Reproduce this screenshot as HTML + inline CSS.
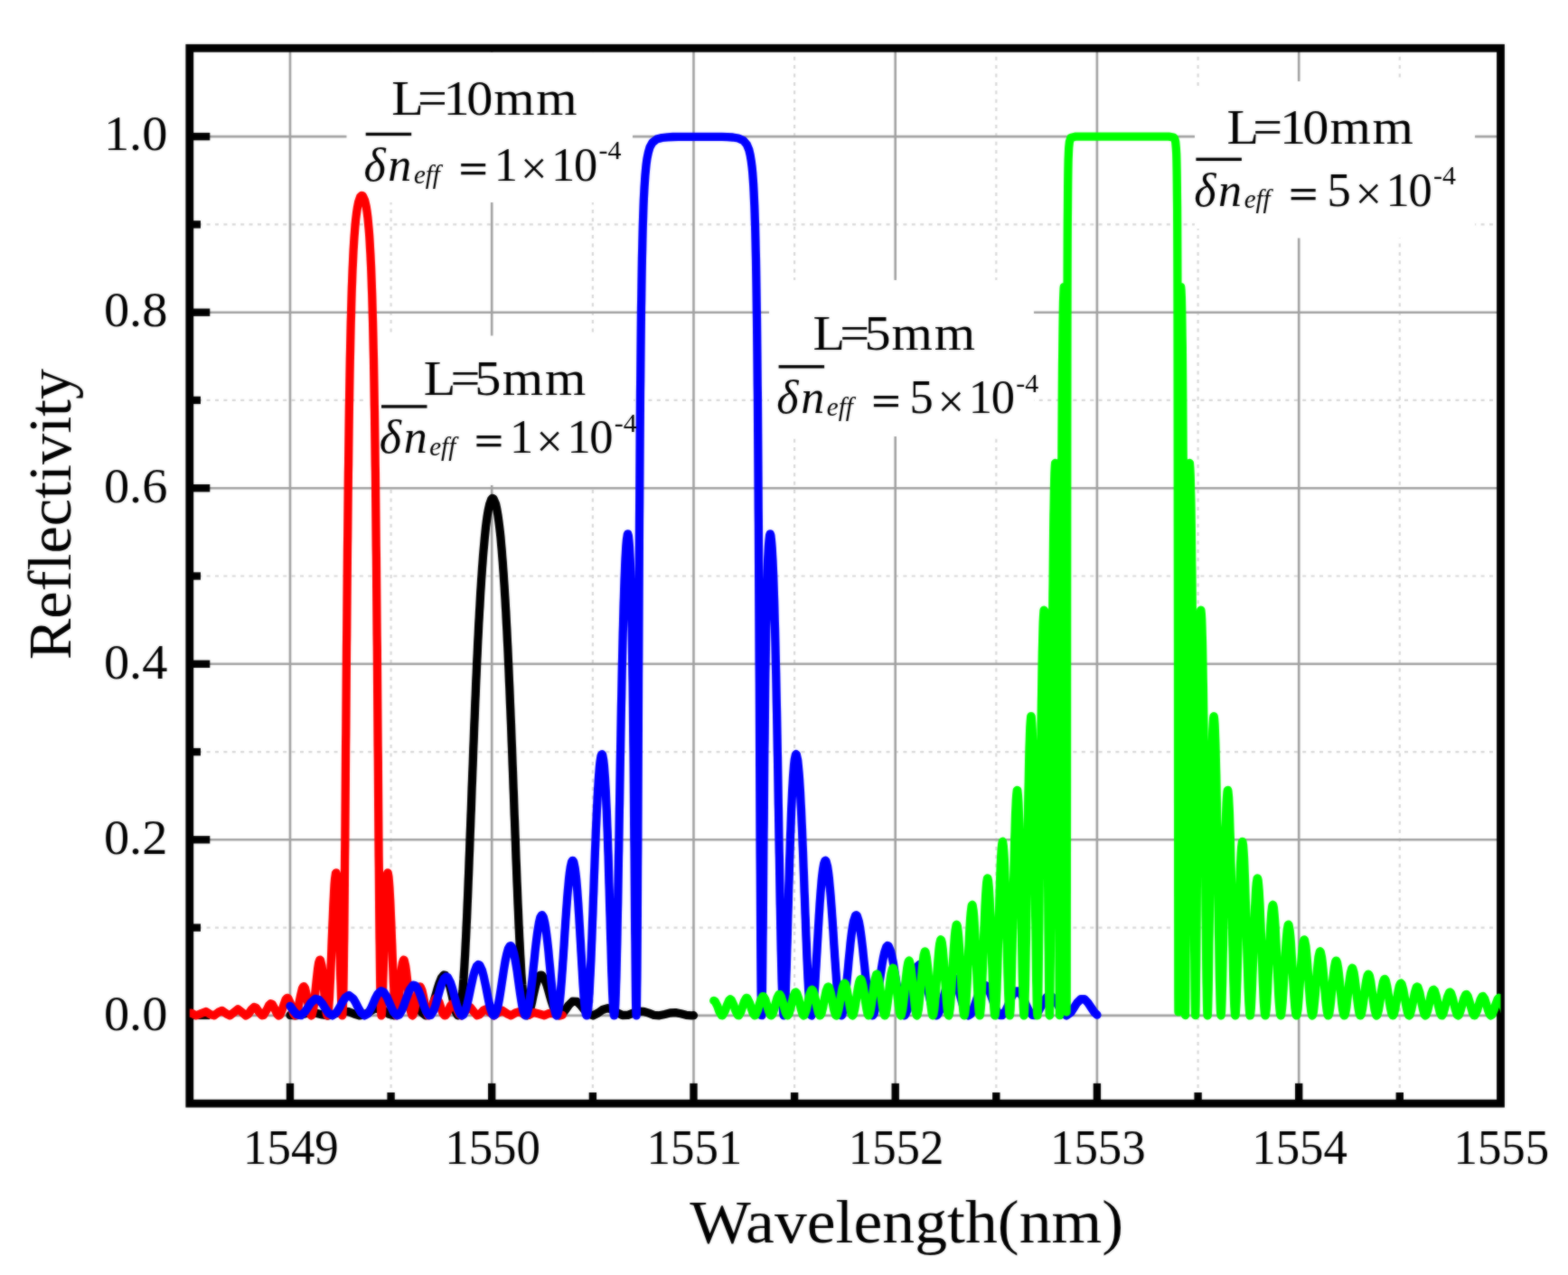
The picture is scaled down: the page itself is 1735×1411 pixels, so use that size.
<!DOCTYPE html>
<html lang="en"><head><meta charset="utf-8"><title>Reflectivity vs Wavelength</title>
<style>html,body{margin:0;padding:0;background:#fff}svg{display:block}</style></head>
<body>
<svg width="1735" height="1411" viewBox="0 0 1735 1411">
<defs><clipPath id="plot"><rect x="209.8" y="53.3" width="1450.7" height="1167.9"/></clipPath>
<rect width="1735" height="1411" fill="#ffffff"/>
<filter id="soft" x="0" y="0" width="100%" height="100%" filterUnits="userSpaceOnUse" color-interpolation-filters="sRGB"><feGaussianBlur in="SourceGraphic" stdDeviation="0.80" result="b"/><feComposite in="SourceGraphic" in2="b" operator="arithmetic" k1="0" k2="0.45" k3="0.55" k4="0"/></filter></defs>
<g filter="url(#soft)">
<rect width="1735" height="1411" fill="#ffffff"/>
<g id="grid-minor" stroke="#d7d7d7" stroke-width="2.2" stroke-dasharray="4 5.4" fill="none">
<line x1="432.6" y1="53.3" x2="432.6" y2="1221.2"/>
<line x1="655.9" y1="53.3" x2="655.9" y2="1221.2"/>
<line x1="879.1" y1="53.3" x2="879.1" y2="1221.2"/>
<line x1="1102.3" y1="53.3" x2="1102.3" y2="1221.2"/>
<line x1="1325.6" y1="53.3" x2="1325.6" y2="1221.2"/>
<line x1="1548.8" y1="53.3" x2="1548.8" y2="1221.2"/>
<line x1="209.8" y1="1026.6" x2="1660.5" y2="1026.6"/>
<line x1="209.8" y1="832.1" x2="1660.5" y2="832.1"/>
<line x1="209.8" y1="637.5" x2="1660.5" y2="637.5"/>
<line x1="209.8" y1="442.9" x2="1660.5" y2="442.9"/>
<line x1="209.8" y1="248.4" x2="1660.5" y2="248.4"/>
</g>
<g id="grid-major" stroke="#a0a0a0" stroke-width="2.6" fill="none">
<line x1="321.0" y1="53.3" x2="321.0" y2="1221.2"/>
<line x1="544.2" y1="53.3" x2="544.2" y2="1221.2"/>
<line x1="767.5" y1="53.3" x2="767.5" y2="1221.2"/>
<line x1="990.7" y1="53.3" x2="990.7" y2="1221.2"/>
<line x1="1213.9" y1="53.3" x2="1213.9" y2="1221.2"/>
<line x1="1437.2" y1="53.3" x2="1437.2" y2="1221.2"/>
<line x1="209.8" y1="1123.9" x2="1660.5" y2="1123.9"/>
<line x1="209.8" y1="929.3" x2="1660.5" y2="929.3"/>
<line x1="209.8" y1="734.8" x2="1660.5" y2="734.8"/>
<line x1="209.8" y1="540.2" x2="1660.5" y2="540.2"/>
<line x1="209.8" y1="345.7" x2="1660.5" y2="345.7"/>
<line x1="209.8" y1="151.1" x2="1660.5" y2="151.1"/>
</g>
<g id="label-backgrounds" fill="#ffffff">
<rect x="383.5" y="58.0" width="316.5" height="166.0"/>
<rect x="407.0" y="371.5" width="294.0" height="165.5"/>
<rect x="851.0" y="310.0" width="293.0" height="173.0"/>
<rect x="1322.0" y="98.0" width="310.0" height="155.0"/>
<rect x="1332.0" y="90.0" width="300.0" height="173.5"/>
</g>
<g id="axes" stroke="#000" fill="none">
<rect x="209.8" y="53.3" width="1450.7" height="1167.9" stroke-width="8.8"/>
<g stroke-width="8.4">
<line x1="321.0" y1="1221.2" x2="321.0" y2="1198.9"/>
<line x1="544.2" y1="1221.2" x2="544.2" y2="1198.9"/>
<line x1="767.5" y1="1221.2" x2="767.5" y2="1198.9"/>
<line x1="990.7" y1="1221.2" x2="990.7" y2="1198.9"/>
<line x1="1213.9" y1="1221.2" x2="1213.9" y2="1198.9"/>
<line x1="1437.2" y1="1221.2" x2="1437.2" y2="1198.9"/>
<line x1="432.6" y1="1221.2" x2="432.6" y2="1209.0"/>
<line x1="655.9" y1="1221.2" x2="655.9" y2="1209.0"/>
<line x1="879.1" y1="1221.2" x2="879.1" y2="1209.0"/>
<line x1="1102.3" y1="1221.2" x2="1102.3" y2="1209.0"/>
<line x1="1325.6" y1="1221.2" x2="1325.6" y2="1209.0"/>
<line x1="1548.8" y1="1221.2" x2="1548.8" y2="1209.0"/>
<line x1="209.8" y1="1123.9" x2="232.3" y2="1123.9"/>
<line x1="209.8" y1="929.3" x2="232.3" y2="929.3"/>
<line x1="209.8" y1="734.8" x2="232.3" y2="734.8"/>
<line x1="209.8" y1="540.2" x2="232.3" y2="540.2"/>
<line x1="209.8" y1="345.7" x2="232.3" y2="345.7"/>
<line x1="209.8" y1="151.1" x2="232.3" y2="151.1"/>
<line x1="209.8" y1="1026.6" x2="222.0" y2="1026.6"/>
<line x1="209.8" y1="832.1" x2="222.0" y2="832.1"/>
<line x1="209.8" y1="637.5" x2="222.0" y2="637.5"/>
<line x1="209.8" y1="442.9" x2="222.0" y2="442.9"/>
<line x1="209.8" y1="248.4" x2="222.0" y2="248.4"/>
</g></g>
<g id="curves" clip-path="url(#plot)" fill="none" stroke-width="9.3" stroke-linejoin="round" stroke-linecap="round">
<path stroke="#000000" d="M321.0 1123.4 L327.0 1123.9 L333.1 1122.9 L338.9 1121.4 L344.9 1120.6 L350.9 1121.4 L356.7 1123.0 L362.8 1123.9 L368.7 1122.8 L374.3 1120.5 L380.1 1119.0 L386.1 1119.7 L391.7 1122.0 L397.5 1123.8 L403.5 1122.8 L408.7 1119.7 L414.0 1116.6 L420.0 1115.9 L425.4 1118.7 L430.3 1122.2 L436.1 1123.8 L441.2 1120.7 L445.1 1116.0 L448.9 1111.2 L453.9 1107.8 L459.4 1110.4 L463.1 1115.3 L466.6 1120.4 L471.0 1123.9 L473.9 1122.4 L476.9 1117.1 L479.1 1111.4 L480.8 1105.6 L482.5 1099.7 L484.2 1093.9 L486.1 1087.9 L488.4 1082.2 L491.1 1079.0 L492.8 1079.4 L495.8 1084.8 L497.6 1090.8 L499.0 1096.8 L500.4 1102.8 L501.7 1109.1 L503.1 1114.9 L504.7 1120.8 L506.4 1123.8 L507.1 1123.8 L508.1 1122.5 L509.6 1116.2 L510.5 1110.0 L511.3 1103.0 L511.9 1097.0 L512.4 1090.1 L512.9 1084.1 L513.3 1077.5 L513.8 1070.5 L514.2 1062.9 L514.6 1056.9 L514.9 1050.6 L515.2 1044.1 L515.6 1037.3 L515.9 1030.3 L516.2 1023.1 L516.6 1015.7 L516.9 1008.0 L517.2 1000.2 L517.6 992.1 L517.9 983.9 L518.2 975.6 L518.6 967.1 L518.9 958.6 L519.2 949.9 L519.6 941.1 L519.9 932.2 L520.2 923.3 L520.6 914.3 L520.8 908.3 L521.0 902.3 L521.3 896.3 L521.5 890.3 L521.7 884.3 L521.9 878.3 L522.1 872.2 L522.5 863.3 L522.8 854.3 L523.2 845.4 L523.5 836.6 L523.8 827.8 L524.2 819.1 L524.5 810.5 L524.8 802.0 L525.2 793.6 L525.5 785.3 L525.8 777.1 L526.2 769.0 L526.5 761.1 L526.8 753.3 L527.2 745.6 L527.5 738.1 L527.8 730.7 L528.2 723.4 L528.5 716.4 L528.8 709.4 L529.2 702.6 L529.5 696.0 L529.8 689.5 L530.2 683.2 L530.5 677.1 L530.9 671.1 L531.3 663.3 L531.7 655.8 L532.2 648.7 L532.6 641.7 L533.1 635.1 L533.5 628.8 L534.0 622.7 L534.5 615.5 L535.1 608.7 L535.7 602.3 L536.2 596.3 L536.9 589.6 L537.5 583.5 L538.3 577.1 L539.2 570.7 L540.2 564.7 L541.6 558.4 L543.6 552.7 L544.9 551.4 L546.0 551.8 L548.5 557.5 L549.8 563.5 L550.9 570.0 L551.8 576.3 L552.6 582.6 L553.3 588.6 L554.0 595.1 L554.6 602.3 L555.2 608.7 L555.7 615.5 L556.3 622.7 L556.7 628.8 L557.2 635.1 L557.6 641.7 L558.1 648.6 L558.5 655.8 L559.0 663.3 L559.4 671.0 L559.8 677.0 L560.1 683.2 L560.4 689.5 L560.8 696.0 L561.1 702.6 L561.4 709.4 L561.8 716.3 L562.1 723.4 L562.4 730.6 L562.8 738.0 L563.1 745.6 L563.4 753.2 L563.8 761.0 L564.1 769.0 L564.4 777.0 L564.8 785.2 L565.1 793.5 L565.5 801.9 L565.8 810.4 L566.1 819.0 L566.5 827.7 L566.8 836.5 L567.1 845.3 L567.5 854.2 L567.8 863.2 L568.1 872.2 L568.4 878.2 L568.6 884.2 L568.8 890.2 L569.0 896.2 L569.2 902.2 L569.5 908.2 L569.7 914.2 L570.0 923.2 L570.4 932.1 L570.7 941.0 L571.0 949.8 L571.4 958.5 L571.7 967.0 L572.0 975.5 L572.4 983.8 L572.7 992.0 L573.0 1000.0 L573.4 1007.9 L573.7 1015.5 L574.0 1023.0 L574.4 1030.2 L574.7 1037.2 L575.1 1044.0 L575.4 1050.5 L575.7 1056.8 L576.1 1062.8 L576.5 1070.4 L576.9 1077.5 L577.4 1084.0 L577.8 1090.1 L578.4 1096.9 L579.0 1102.9 L579.6 1109.0 L580.5 1115.4 L581.9 1121.5 L583.1 1123.8 L583.8 1123.8 L585.8 1120.2 L587.4 1114.0 L588.8 1108.1 L590.1 1101.9 L591.5 1095.8 L592.9 1090.0 L594.7 1084.2 L597.7 1079.2 L599.4 1079.1 L602.8 1084.3 L605.0 1090.2 L606.8 1096.2 L608.4 1102.0 L610.2 1108.1 L612.1 1113.9 L614.5 1119.5 L618.2 1123.8 L621.9 1122.5 L625.7 1117.6 L629.2 1112.5 L633.5 1108.2 L638.3 1108.5 L642.7 1112.7 L646.4 1117.5 L650.5 1121.9 L656.3 1123.8 L661.8 1121.0 L666.7 1117.5 L672.5 1115.6 L678.3 1117.6 L683.3 1120.8 L688.8 1123.5 L694.8 1123.4 L700.5 1121.2 L706.2 1119.2 L712.2 1119.3 L717.9 1121.2 L723.6 1123.3 L729.6 1123.8 L735.6 1122.5 L741.4 1121.0 L747.4 1120.6 L753.3 1121.8 L759.2 1123.3 L765.2 1123.9 L767.5 1123.7"/>
<path stroke="#ff0000" d="M177.2 1122.6 L183.1 1123.7 L188.7 1121.2 L194.7 1122.1 L200.5 1123.8 L206.0 1121.1 L211.8 1121.1 L217.1 1123.8 L222.7 1121.5 L227.8 1119.5 L233.0 1122.7 L237.0 1123.8 L241.8 1120.1 L245.8 1118.4 L250.7 1122.0 L254.4 1123.9 L259.1 1120.1 L263.2 1116.8 L268.0 1120.4 L272.0 1123.9 L274.9 1122.2 L278.3 1117.2 L281.3 1114.4 L283.6 1115.5 L287.0 1120.6 L290.0 1123.8 L291.7 1123.4 L294.8 1118.2 L297.5 1112.7 L299.6 1110.7 L301.3 1111.5 L304.2 1117.0 L306.8 1122.5 L308.4 1123.9 L309.8 1123.1 L312.2 1117.6 L314.0 1111.9 L316.1 1106.1 L317.7 1104.3 L318.7 1104.5 L321.3 1110.1 L322.9 1115.9 L324.8 1121.8 L326.3 1123.8 L327.1 1123.7 L329.1 1119.0 L330.4 1113.0 L331.6 1106.6 L332.9 1100.3 L334.4 1094.1 L335.7 1091.8 L336.3 1091.7 L337.6 1093.8 L339.1 1100.2 L340.2 1106.4 L341.2 1112.4 L342.4 1118.4 L343.9 1123.5 L344.5 1123.9 L345.0 1123.5 L346.6 1117.4 L347.5 1111.0 L348.3 1104.2 L348.9 1097.6 L349.6 1090.8 L350.3 1084.1 L351.0 1077.8 L351.7 1071.4 L352.7 1065.3 L353.7 1062.4 L354.1 1062.2 L354.5 1062.6 L356.0 1068.9 L356.8 1075.2 L357.4 1082.0 L358.0 1088.3 L358.5 1094.9 L359.1 1101.6 L359.7 1108.1 L360.3 1114.9 L361.1 1120.9 L361.9 1123.8 L362.1 1123.9 L362.4 1123.5 L363.5 1117.5 L364.0 1110.9 L364.5 1104.2 L364.9 1096.1 L365.2 1089.3 L365.6 1082.0 L365.9 1074.2 L366.2 1066.1 L366.6 1057.6 L366.9 1049.0 L367.2 1040.4 L367.6 1031.8 L367.9 1023.3 L368.3 1015.1 L368.6 1007.3 L368.9 999.9 L369.3 993.0 L369.6 986.8 L370.0 979.5 L370.6 972.5 L371.5 966.4 L371.7 966.0 L371.9 966.0 L372.5 968.3 L373.2 975.1 L373.6 982.1 L373.9 988.8 L374.3 996.6 L374.6 1005.4 L374.8 1011.8 L375.1 1018.7 L375.3 1025.9 L375.5 1033.5 L375.7 1041.4 L376.0 1049.4 L376.2 1057.7 L376.4 1065.9 L376.6 1074.2 L376.8 1082.3 L377.1 1090.1 L377.3 1097.5 L377.5 1104.3 L377.7 1110.4 L378.1 1117.7 L378.5 1123.3 L378.6 1123.8 L378.7 1123.9 L379.0 1122.7 L379.4 1114.6 L379.6 1107.4 L379.9 1098.0 L380.1 1086.3 L380.2 1079.7 L380.3 1072.4 L380.4 1064.7 L380.5 1056.4 L380.6 1047.5 L380.8 1038.2 L380.9 1028.3 L381.0 1018.0 L381.1 1007.3 L381.2 996.1 L381.3 984.5 L381.4 972.6 L381.5 960.3 L381.6 947.7 L381.8 934.9 L381.9 921.7 L382.0 908.4 L382.1 894.9 L382.2 881.3 L382.3 867.5 L382.4 853.6 L382.5 839.7 L382.6 825.7 L382.8 811.8 L382.9 797.8 L383.0 783.9 L383.1 770.1 L383.2 756.4 L383.3 742.8 L383.4 729.3 L383.5 716.0 L383.7 702.9 L383.8 689.9 L383.9 677.1 L384.0 664.6 L384.1 652.2 L384.2 640.1 L384.3 628.2 L384.4 616.5 L384.5 605.1 L384.7 593.9 L384.8 583.0 L384.9 572.3 L385.0 561.9 L385.1 551.7 L385.2 541.8 L385.3 532.1 L385.4 522.7 L385.6 513.6 L385.7 504.6 L385.8 495.9 L385.9 487.5 L386.0 479.3 L386.1 471.3 L386.2 463.5 L386.3 456.0 L386.4 448.6 L386.6 441.5 L386.7 434.6 L386.8 427.9 L386.9 421.4 L387.0 415.1 L387.1 409.0 L387.3 397.3 L387.6 386.2 L387.8 375.9 L388.0 366.1 L388.2 356.9 L388.5 348.3 L388.7 340.2 L388.9 332.5 L389.1 325.3 L389.3 318.6 L389.6 312.2 L389.8 306.2 L390.1 297.8 L390.5 290.2 L390.8 283.2 L391.1 276.8 L391.6 269.1 L392.0 262.3 L392.5 256.2 L393.0 249.5 L393.7 242.6 L394.5 236.0 L395.4 229.9 L396.6 223.8 L398.6 217.9 L400.2 216.4 L401.4 216.9 L403.7 222.0 L405.1 228.0 L406.1 234.3 L406.9 240.6 L407.5 247.0 L408.1 253.4 L408.7 260.7 L409.1 267.3 L409.5 274.8 L409.9 281.0 L410.2 287.8 L410.6 295.2 L410.9 303.3 L411.2 312.2 L411.4 318.5 L411.7 325.3 L411.9 332.5 L412.1 340.1 L412.3 348.2 L412.6 356.9 L412.8 366.1 L413.0 375.8 L413.2 386.2 L413.5 397.2 L413.7 408.9 L413.8 415.0 L413.9 421.4 L414.0 427.9 L414.1 434.6 L414.2 441.5 L414.3 448.6 L414.5 455.9 L414.6 463.4 L414.7 471.2 L414.8 479.2 L414.9 487.4 L415.0 495.8 L415.1 504.5 L415.2 513.5 L415.4 522.6 L415.5 532.0 L415.6 541.7 L415.7 551.6 L415.8 561.8 L415.9 572.2 L416.0 582.9 L416.1 593.8 L416.2 605.0 L416.4 616.4 L416.5 628.0 L416.6 639.9 L416.7 652.0 L416.8 664.4 L416.9 677.0 L417.0 689.7 L417.1 702.7 L417.3 715.8 L417.4 729.1 L417.5 742.6 L417.6 756.2 L417.7 769.9 L417.8 783.7 L417.9 797.6 L418.0 811.5 L418.1 825.5 L418.3 839.5 L418.4 853.4 L418.5 867.2 L418.6 881.0 L418.7 894.7 L418.8 908.2 L418.9 921.5 L419.0 934.6 L419.1 947.5 L419.3 960.1 L419.4 972.4 L419.5 984.3 L419.6 995.9 L419.7 1007.1 L419.8 1017.8 L419.9 1028.1 L420.0 1038.0 L420.2 1047.3 L420.3 1056.2 L420.4 1064.5 L420.5 1072.3 L420.6 1079.5 L420.7 1086.2 L420.8 1092.3 L421.0 1102.9 L421.3 1111.2 L421.5 1117.3 L421.9 1123.5 L422.0 1123.9 L422.2 1123.8 L422.6 1119.7 L422.9 1113.1 L423.3 1104.4 L423.5 1097.6 L423.7 1090.2 L423.9 1082.4 L424.2 1074.3 L424.4 1066.1 L424.6 1057.8 L424.8 1049.6 L425.1 1041.5 L425.3 1033.6 L425.5 1026.1 L425.7 1018.8 L426.0 1012.0 L426.2 1005.5 L426.4 999.5 L426.7 991.4 L427.1 984.3 L427.5 976.7 L428.1 970.1 L428.7 966.2 L429.0 965.9 L429.2 966.1 L430.0 970.3 L430.5 976.4 L431.0 982.9 L431.4 990.8 L431.8 997.4 L432.1 1004.6 L432.4 1012.3 L432.8 1020.4 L433.1 1028.8 L433.4 1037.3 L433.8 1046.0 L434.1 1054.6 L434.4 1063.1 L434.8 1071.4 L435.1 1079.3 L435.4 1086.8 L435.8 1093.8 L436.1 1100.2 L436.6 1107.6 L437.0 1113.7 L437.7 1120.2 L438.5 1123.7 L438.7 1123.9 L439.0 1123.6 L440.2 1117.0 L440.9 1110.6 L441.5 1104.4 L442.0 1097.8 L442.6 1091.1 L443.1 1084.6 L443.7 1078.6 L444.4 1072.4 L445.3 1066.2 L446.4 1062.5 L446.7 1062.2 L447.2 1062.5 L448.7 1069.0 L449.6 1075.7 L450.3 1081.8 L451.0 1088.4 L451.6 1095.2 L452.3 1101.9 L453.0 1108.1 L453.7 1114.3 L454.8 1120.3 L455.9 1123.6 L456.3 1123.9 L456.9 1123.5 L458.7 1117.4 L459.8 1111.2 L460.8 1105.2 L461.9 1099.1 L463.5 1093.3 L464.5 1091.8 L465.1 1091.8 L466.9 1095.9 L468.3 1101.8 L469.5 1108.2 L470.7 1114.6 L472.2 1120.5 L473.7 1123.7 L474.5 1123.9 L476.5 1120.4 L478.3 1114.5 L480.1 1108.5 L482.2 1104.5 L483.2 1104.3 L486.1 1109.6 L488.0 1115.7 L490.1 1121.6 L491.9 1123.8 L493.1 1123.6 L496.2 1118.2 L498.7 1112.7 L500.7 1110.7 L502.4 1111.4 L505.4 1116.8 L508.2 1122.3 L510.3 1123.9 L514.6 1119.4 L518.3 1114.6 L520.3 1114.7 L524.1 1119.5 L528.0 1123.8 L531.0 1122.6 L534.9 1118.0 L537.8 1116.8 L542.4 1120.7 L546.5 1123.9 L551.6 1120.6 L555.9 1118.3 L560.9 1121.7 L565.4 1123.9 L570.6 1120.7 L575.1 1119.6 L580.2 1122.9 L585.2 1123.4 L590.6 1120.5 L596.5 1122.0 L602.3 1123.8 L607.9 1121.3 L613.9 1121.9 L619.6 1123.9 L622.3 1123.3"/>
<path stroke="#0000ff" d="M321.0 1113.3 L324.6 1118.3 L328.7 1122.8 L333.0 1123.7 L337.5 1119.6 L340.9 1114.5 L344.2 1109.4 L348.7 1105.4 L352.8 1106.2 L356.7 1110.8 L360.0 1116.1 L363.4 1121.2 L367.8 1123.9 L372.7 1120.2 L375.8 1114.9 L378.7 1109.3 L382.0 1104.2 L386.1 1101.5 L390.9 1105.1 L393.9 1110.3 L396.7 1115.8 L399.8 1121.1 L403.6 1123.9 L407.2 1121.7 L410.3 1116.3 L412.8 1110.8 L415.2 1105.2 L418.1 1099.7 L421.8 1096.6 L424.9 1098.2 L428.2 1103.5 L430.6 1109.1 L433.0 1114.7 L435.6 1120.2 L439.2 1123.8 L441.7 1123.0 L444.9 1117.7 L447.1 1112.0 L449.1 1106.3 L451.2 1100.6 L453.5 1095.0 L457.2 1090.2 L459.4 1090.5 L462.9 1095.6 L465.1 1101.3 L467.1 1107.3 L469.1 1113.3 L471.4 1119.0 L474.8 1123.7 L476.6 1123.5 L479.8 1118.4 L481.9 1112.5 L483.5 1106.7 L485.2 1100.6 L486.9 1094.5 L488.8 1088.5 L491.2 1083.0 L493.6 1080.9 L495.5 1081.6 L498.4 1087.1 L500.3 1092.9 L501.9 1099.1 L503.5 1105.1 L505.1 1111.0 L506.9 1117.0 L509.3 1122.5 L511.1 1123.9 L512.7 1123.0 L515.2 1117.4 L516.9 1111.4 L518.4 1105.1 L519.7 1098.7 L520.9 1092.8 L522.3 1086.4 L523.6 1080.6 L525.2 1074.8 L527.4 1069.1 L529.3 1067.4 L530.7 1068.0 L533.4 1073.7 L535.1 1079.9 L536.4 1085.9 L537.7 1092.0 L538.9 1098.3 L540.1 1104.6 L541.3 1110.5 L542.8 1116.5 L544.8 1122.2 L546.4 1123.9 L547.5 1123.5 L549.9 1117.7 L551.4 1111.4 L552.5 1105.4 L553.5 1099.3 L554.5 1092.9 L555.4 1086.9 L556.3 1081.0 L557.3 1074.4 L558.3 1068.2 L559.4 1061.9 L560.7 1056.0 L562.3 1050.1 L564.2 1046.8 L565.2 1046.7 L567.0 1049.4 L568.8 1055.6 L570.0 1061.7 L571.1 1068.3 L572.2 1074.9 L573.0 1081.1 L573.9 1087.6 L574.8 1094.0 L575.7 1100.3 L576.7 1106.9 L577.8 1113.3 L579.2 1119.3 L581.0 1123.6 L581.7 1123.9 L582.8 1122.8 L584.5 1116.7 L585.7 1110.4 L586.5 1104.1 L587.3 1097.9 L588.1 1091.1 L588.8 1085.0 L589.5 1078.6 L590.1 1072.2 L590.8 1065.7 L591.5 1059.2 L592.1 1052.9 L592.8 1046.8 L593.6 1040.1 L594.4 1033.9 L595.3 1027.7 L596.4 1021.2 L597.8 1015.4 L599.3 1012.8 L599.9 1012.7 L601.3 1014.9 L602.8 1021.1 L603.8 1027.1 L604.7 1033.6 L605.5 1040.1 L606.2 1046.2 L606.9 1052.8 L607.5 1059.6 L608.2 1066.7 L608.8 1072.7 L609.3 1078.7 L610.0 1085.8 L610.7 1092.8 L611.3 1099.3 L612.0 1105.3 L612.8 1111.6 L613.8 1118.0 L615.3 1123.4 L615.9 1123.9 L616.5 1123.5 L618.0 1117.8 L618.9 1111.6 L619.6 1105.6 L620.3 1098.6 L620.8 1092.1 L621.4 1085.0 L621.8 1079.0 L622.3 1072.8 L622.7 1066.3 L623.2 1059.7 L623.6 1052.9 L624.1 1046.1 L624.5 1039.3 L624.9 1032.4 L625.4 1025.7 L625.8 1019.0 L626.3 1012.5 L626.7 1006.2 L627.2 1000.1 L627.7 992.8 L628.3 986.0 L628.9 979.7 L629.5 972.9 L630.3 966.0 L631.2 959.8 L632.5 953.9 L633.4 952.4 L633.9 952.4 L634.8 953.9 L636.1 960.1 L637.0 966.7 L637.7 973.0 L638.2 979.0 L638.8 985.8 L639.3 993.2 L639.8 999.6 L640.2 1006.3 L640.7 1013.4 L641.1 1020.7 L641.6 1028.3 L642.0 1036.0 L642.5 1043.9 L642.9 1051.9 L643.4 1059.8 L643.8 1067.6 L644.3 1075.3 L644.7 1082.7 L645.1 1089.8 L645.6 1096.5 L646.0 1102.6 L646.6 1109.4 L647.3 1116.0 L648.3 1122.4 L648.8 1123.8 L649.1 1123.9 L649.4 1123.5 L650.4 1118.8 L651.1 1112.5 L651.6 1105.5 L652.1 1098.7 L652.5 1091.0 L652.8 1084.6 L653.2 1077.8 L653.5 1070.6 L653.9 1063.0 L654.2 1055.0 L654.5 1046.8 L654.9 1038.3 L655.2 1029.6 L655.5 1020.7 L655.9 1011.7 L656.1 1005.6 L656.3 999.6 L656.5 993.5 L656.8 987.4 L657.0 981.4 L657.2 975.3 L657.4 969.3 L657.8 960.4 L658.1 951.6 L658.4 943.0 L658.8 934.5 L659.1 926.3 L659.4 918.3 L659.8 910.6 L660.1 903.2 L660.4 896.1 L660.8 889.3 L661.1 882.8 L661.4 876.7 L661.9 869.2 L662.3 862.3 L662.8 856.2 L663.3 849.5 L664.0 843.1 L665.0 836.8 L665.8 834.8 L666.1 834.7 L666.7 835.6 L667.8 841.7 L668.5 848.1 L669.0 855.0 L669.5 861.6 L669.9 869.1 L670.3 875.4 L670.6 882.2 L670.9 889.5 L671.3 897.3 L671.6 905.7 L671.9 914.5 L672.2 920.7 L672.4 927.1 L672.6 933.7 L672.8 940.5 L673.1 947.4 L673.3 954.6 L673.5 961.8 L673.7 969.3 L673.9 976.8 L674.2 984.5 L674.4 992.3 L674.6 1000.1 L674.8 1008.0 L675.1 1015.9 L675.3 1023.8 L675.5 1031.7 L675.7 1039.5 L676.0 1047.2 L676.2 1054.8 L676.4 1062.1 L676.6 1069.3 L676.8 1076.3 L677.1 1082.9 L677.3 1089.2 L677.6 1097.9 L678.0 1105.6 L678.3 1112.1 L678.7 1118.7 L679.3 1123.3 L679.5 1123.9 L679.6 1123.9 L680.0 1122.7 L680.5 1116.7 L680.9 1110.7 L681.2 1102.8 L681.4 1096.6 L681.6 1089.6 L681.9 1082.0 L682.1 1073.6 L682.3 1064.5 L682.5 1054.8 L682.8 1044.6 L683.0 1033.8 L683.2 1022.5 L683.4 1010.9 L683.7 998.8 L683.8 992.6 L683.9 986.4 L684.0 980.1 L684.1 973.8 L684.2 967.4 L684.3 960.9 L684.4 954.4 L684.5 947.9 L684.7 941.3 L684.8 934.7 L684.9 928.1 L685.0 921.5 L685.1 914.9 L685.2 908.3 L685.3 901.6 L685.4 895.0 L685.6 888.4 L685.7 881.9 L685.8 875.3 L685.9 868.8 L686.0 862.3 L686.1 855.8 L686.2 849.4 L686.3 843.0 L686.4 836.7 L686.6 830.4 L686.7 824.2 L686.8 818.0 L686.9 811.9 L687.0 805.8 L687.2 793.9 L687.4 782.3 L687.7 771.0 L687.9 759.9 L688.1 749.2 L688.3 738.8 L688.6 728.7 L688.8 719.0 L689.0 709.6 L689.2 700.6 L689.5 691.9 L689.7 683.6 L689.9 675.6 L690.1 668.0 L690.4 660.7 L690.6 653.8 L690.8 647.3 L691.0 641.1 L691.4 632.5 L691.7 624.7 L692.0 617.7 L692.4 611.5 L692.8 604.5 L693.4 597.7 L694.3 591.7 L694.6 591.0 L694.8 591.0 L695.4 593.0 L696.0 598.9 L696.5 605.3 L696.8 611.5 L697.2 619.0 L697.5 627.9 L697.7 634.6 L697.9 642.0 L698.2 650.1 L698.4 659.1 L698.6 668.8 L698.8 679.4 L699.1 691.0 L699.2 697.1 L699.3 703.4 L699.4 710.1 L699.5 717.0 L699.6 724.1 L699.7 731.5 L699.8 739.2 L699.9 747.2 L700.1 755.5 L700.2 764.0 L700.3 772.9 L700.4 782.1 L700.5 791.6 L700.6 801.3 L700.7 811.4 L700.8 821.8 L701.0 832.5 L701.1 843.5 L701.2 854.8 L701.3 866.4 L701.4 878.2 L701.5 890.3 L701.6 902.6 L701.7 915.2 L701.8 927.9 L702.0 940.8 L702.1 953.8 L702.2 966.9 L702.3 980.0 L702.4 993.0 L702.5 1006.0 L702.6 1018.7 L702.7 1031.3 L702.9 1043.4 L703.0 1055.2 L703.1 1066.4 L703.2 1076.9 L703.3 1086.7 L703.4 1095.6 L703.5 1103.6 L703.6 1110.3 L703.9 1120.0 L704.1 1123.9 L704.2 1123.3 L704.4 1117.0 L704.6 1103.3 L704.7 1093.7 L704.9 1082.3 L705.0 1069.2 L705.1 1054.4 L705.2 1038.0 L705.3 1020.1 L705.4 1000.9 L705.5 980.6 L705.6 959.2 L705.8 936.9 L705.9 913.9 L706.0 890.4 L706.1 866.6 L706.2 842.4 L706.3 818.2 L706.4 794.1 L706.5 770.1 L706.6 746.3 L706.8 722.9 L706.9 700.0 L707.0 677.6 L707.1 655.7 L707.2 634.5 L707.3 613.9 L707.4 594.0 L707.5 574.8 L707.7 556.3 L707.8 538.5 L707.9 521.4 L708.0 505.0 L708.1 489.4 L708.2 474.4 L708.3 460.0 L708.4 446.3 L708.5 433.3 L708.7 420.8 L708.8 408.9 L708.9 397.6 L709.0 386.8 L709.1 376.6 L709.2 366.8 L709.3 357.5 L709.4 348.6 L709.5 340.2 L709.7 332.2 L709.8 324.6 L709.9 317.3 L710.0 310.4 L710.1 303.8 L710.2 297.5 L710.4 285.9 L710.7 275.3 L710.9 265.7 L711.1 256.9 L711.3 249.0 L711.6 241.7 L711.8 235.1 L712.0 229.1 L712.3 221.0 L712.7 213.9 L713.0 207.7 L713.5 200.5 L713.9 194.4 L714.5 188.0 L715.1 181.8 L716.0 175.4 L717.3 169.1 L719.0 163.1 L721.9 157.8 L726.7 154.1 L732.5 152.5 L738.6 151.8 L744.6 151.5 L750.6 151.4 L756.7 151.3 L762.7 151.3 L768.7 151.3 L774.7 151.3 L780.8 151.3 L786.8 151.3 L792.8 151.3 L798.8 151.4 L804.9 151.6 L810.9 152.0 L816.9 153.0 L822.5 155.5 L826.4 160.1 L828.8 165.9 L830.2 171.9 L831.2 177.9 L832.0 184.1 L832.7 190.9 L833.2 197.9 L833.7 204.7 L834.1 212.6 L834.4 219.5 L834.8 227.4 L835.1 236.4 L835.3 243.1 L835.6 250.5 L835.8 258.6 L836.0 267.5 L836.2 277.3 L836.5 288.1 L836.7 299.9 L836.8 306.3 L836.9 313.0 L837.0 320.1 L837.1 327.5 L837.2 335.3 L837.3 343.4 L837.5 352.0 L837.6 361.0 L837.7 370.5 L837.8 380.5 L837.9 390.9 L838.0 401.9 L838.1 413.4 L838.2 425.5 L838.4 438.2 L838.5 451.5 L838.6 465.4 L838.7 480.0 L838.8 495.2 L838.9 511.2 L839.0 527.8 L839.1 545.1 L839.2 563.2 L839.4 581.9 L839.5 601.4 L839.6 621.5 L839.7 642.3 L839.8 663.8 L839.9 685.8 L840.0 708.4 L840.1 731.5 L840.3 755.0 L840.4 778.9 L840.5 802.9 L840.6 827.1 L840.7 851.3 L840.8 875.3 L840.9 899.1 L841.0 922.4 L841.1 945.1 L841.3 967.0 L841.4 988.0 L841.5 1008.0 L841.6 1026.7 L841.7 1044.0 L841.8 1059.9 L841.9 1074.1 L842.0 1086.6 L842.1 1097.4 L842.3 1106.3 L842.4 1113.4 L842.6 1122.1 L842.7 1123.7 L842.8 1123.7 L843.2 1114.1 L843.4 1100.9 L843.5 1092.7 L843.6 1083.4 L843.7 1073.4 L843.8 1062.6 L843.9 1051.2 L844.0 1039.3 L844.2 1027.0 L844.3 1014.4 L844.4 1001.6 L844.5 988.6 L844.6 975.5 L844.7 962.5 L844.8 949.4 L844.9 936.5 L845.0 923.6 L845.2 911.0 L845.3 898.5 L845.4 886.2 L845.5 874.2 L845.6 862.5 L845.7 851.0 L845.8 839.9 L845.9 829.0 L846.1 818.4 L846.2 808.1 L846.3 798.1 L846.4 788.4 L846.5 779.1 L846.6 770.0 L846.7 761.3 L846.8 752.8 L846.9 744.6 L847.1 736.7 L847.2 729.1 L847.3 721.8 L847.4 714.7 L847.5 708.0 L847.6 701.4 L847.7 695.1 L847.8 689.1 L848.1 677.7 L848.3 667.3 L848.5 657.6 L848.7 648.8 L849.0 640.8 L849.2 633.5 L849.4 626.9 L849.7 618.2 L850.1 610.9 L850.4 604.8 L850.9 598.6 L851.6 592.2 L852.1 591.0 L852.3 591.0 L852.9 592.8 L853.6 599.2 L854.2 606.5 L854.6 614.0 L855.0 620.5 L855.3 627.9 L855.7 636.0 L856.0 644.9 L856.2 651.3 L856.4 658.1 L856.7 665.2 L856.9 672.7 L857.1 680.5 L857.3 688.7 L857.6 697.2 L857.8 706.1 L858.0 715.3 L858.2 724.9 L858.4 734.9 L858.7 745.1 L858.9 755.7 L859.1 766.6 L859.3 777.8 L859.6 789.3 L859.8 801.1 L860.0 813.2 L860.1 819.3 L860.2 825.5 L860.3 831.7 L860.5 838.0 L860.6 844.3 L860.7 850.7 L860.8 857.1 L860.9 863.6 L861.0 870.1 L861.1 876.6 L861.2 883.2 L861.3 889.7 L861.5 896.3 L861.6 902.9 L861.7 909.6 L861.8 916.2 L861.9 922.8 L862.0 929.4 L862.1 936.0 L862.2 942.6 L862.4 949.1 L862.5 955.6 L862.6 962.1 L862.7 968.6 L862.8 975.0 L862.9 981.3 L863.0 987.6 L863.1 993.8 L863.2 999.9 L863.4 1006.0 L863.6 1017.8 L863.8 1029.2 L864.0 1040.2 L864.2 1050.7 L864.5 1060.6 L864.7 1069.9 L864.9 1078.5 L865.1 1086.5 L865.4 1093.8 L865.6 1100.3 L865.9 1108.6 L866.3 1115.2 L866.8 1122.0 L867.1 1123.7 L867.3 1123.9 L867.4 1123.9 L867.7 1122.7 L868.4 1115.5 L868.8 1107.6 L869.2 1100.2 L869.5 1091.8 L869.7 1085.7 L869.9 1079.2 L870.2 1072.4 L870.4 1065.4 L870.6 1058.1 L870.8 1050.6 L871.1 1042.9 L871.3 1035.2 L871.5 1027.3 L871.7 1019.5 L871.9 1011.6 L872.2 1003.7 L872.4 995.8 L872.6 988.0 L872.8 980.3 L873.1 972.7 L873.3 965.2 L873.5 957.9 L873.7 950.7 L874.0 943.7 L874.2 936.8 L874.4 930.1 L874.6 923.7 L874.9 917.4 L875.1 911.3 L875.4 902.7 L875.7 894.5 L876.1 886.8 L876.4 879.7 L876.7 873.1 L877.1 867.0 L877.5 859.8 L878.0 853.4 L878.5 846.8 L879.2 840.8 L880.4 835.1 L880.9 834.7 L881.3 835.1 L882.7 841.3 L883.4 848.3 L884.0 854.7 L884.6 862.3 L885.0 869.1 L885.5 876.6 L885.8 882.7 L886.1 889.2 L886.5 895.9 L886.8 903.0 L887.1 910.4 L887.5 918.1 L887.8 926.1 L888.1 934.3 L888.5 942.7 L888.8 951.3 L889.1 960.1 L889.5 969.0 L889.7 975.0 L889.9 981.1 L890.1 987.1 L890.4 993.2 L890.6 999.2 L890.8 1005.3 L891.0 1011.3 L891.3 1017.3 L891.6 1026.3 L891.9 1035.0 L892.3 1043.6 L892.6 1051.9 L892.9 1060.0 L893.3 1067.7 L893.6 1075.1 L893.9 1082.1 L894.3 1088.6 L894.6 1094.7 L895.1 1101.9 L895.5 1108.3 L896.1 1114.7 L896.8 1120.9 L897.6 1123.7 L898.0 1123.9 L898.4 1123.2 L899.5 1117.2 L900.2 1110.9 L900.7 1104.4 L901.3 1096.9 L901.8 1090.2 L902.2 1083.2 L902.6 1075.8 L903.1 1068.1 L903.5 1060.3 L904.0 1052.4 L904.4 1044.5 L904.9 1036.6 L905.3 1028.9 L905.8 1021.3 L906.2 1013.9 L906.7 1006.9 L907.1 1000.1 L907.6 993.7 L908.0 987.7 L908.6 980.8 L909.1 974.6 L909.8 968.0 L910.6 961.8 L911.7 955.6 L912.9 952.5 L913.4 952.3 L914.0 953.0 L915.6 958.9 L916.6 965.6 L917.4 972.4 L918.0 979.1 L918.6 985.4 L919.2 992.1 L919.7 999.4 L920.2 1005.4 L920.6 1011.7 L921.1 1018.2 L921.5 1024.8 L922.0 1031.5 L922.4 1038.3 L922.8 1045.2 L923.3 1052.0 L923.7 1058.7 L924.2 1065.4 L924.6 1071.8 L925.1 1078.1 L925.5 1084.2 L926.1 1091.3 L926.6 1097.9 L927.3 1104.9 L928.0 1111.0 L928.9 1117.4 L930.4 1123.4 L931.0 1123.9 L931.6 1123.6 L933.3 1117.2 L934.3 1110.5 L935.1 1104.1 L935.8 1098.0 L936.5 1091.4 L937.1 1084.4 L937.8 1077.3 L938.4 1071.3 L939.0 1064.1 L939.7 1057.1 L940.4 1050.4 L941.0 1044.0 L941.8 1037.1 L942.6 1030.9 L943.5 1024.8 L944.6 1018.9 L946.6 1013.1 L947.4 1012.7 L948.3 1013.4 L950.3 1019.6 L951.4 1025.5 L952.4 1032.2 L953.2 1038.2 L954.0 1044.8 L954.7 1050.7 L955.3 1057.0 L956.0 1063.4 L956.7 1069.8 L957.3 1076.3 L958.0 1082.7 L958.7 1088.9 L959.5 1095.8 L960.2 1102.2 L961.1 1108.7 L962.1 1114.8 L963.6 1121.0 L965.0 1123.8 L965.7 1123.8 L967.0 1121.9 L968.7 1115.7 L969.8 1109.8 L970.8 1103.6 L971.7 1097.5 L972.6 1091.2 L973.5 1084.7 L974.4 1078.4 L975.3 1072.3 L976.3 1065.9 L977.4 1059.7 L978.8 1053.6 L980.8 1047.9 L982.1 1046.6 L983.2 1047.1 L985.7 1053.0 L987.1 1059.2 L988.4 1065.7 L989.4 1071.7 L990.4 1078.1 L991.4 1084.8 L992.3 1090.7 L993.3 1097.3 L994.3 1103.5 L995.4 1109.7 L996.7 1115.9 L998.6 1121.9 L1000.2 1123.8 L1001.3 1123.6 L1003.9 1118.1 L1005.4 1112.1 L1006.8 1105.8 L1008.0 1099.6 L1009.2 1093.3 L1010.5 1087.1 L1011.8 1081.0 L1013.4 1074.9 L1015.6 1069.2 L1017.5 1067.4 L1019.1 1068.1 L1021.7 1073.8 L1023.4 1079.8 L1024.9 1086.1 L1026.2 1092.4 L1027.4 1098.3 L1028.8 1104.7 L1030.1 1110.6 L1031.7 1116.4 L1033.9 1122.1 L1035.8 1123.9 L1037.4 1123.2 L1040.2 1117.7 L1041.9 1111.9 L1043.5 1106.1 L1045.1 1100.0 L1046.6 1094.2 L1048.4 1088.4 L1050.9 1082.9 L1053.2 1080.8 L1055.2 1081.8 L1058.1 1087.4 L1060.0 1093.2 L1061.7 1099.0 L1063.4 1105.2 L1065.0 1111.1 L1066.9 1116.9 L1069.6 1122.4 L1071.7 1123.9 L1074.1 1122.4 L1076.9 1116.9 L1079.0 1111.0 L1080.9 1105.3 L1082.9 1099.6 L1085.4 1093.9 L1088.7 1090.1 L1091.0 1090.8 L1094.4 1096.0 L1096.6 1101.6 L1098.6 1107.3 L1100.6 1113.0 L1103.0 1118.7 L1106.6 1123.6 L1108.9 1123.6 L1112.7 1118.6 L1115.3 1113.0 L1117.6 1107.3 L1120.2 1101.8 L1124.0 1097.0 L1126.8 1097.0 L1130.7 1101.8 L1133.4 1107.4 L1135.8 1113.0 L1138.5 1118.7 L1142.3 1123.4 L1145.2 1123.6 L1149.2 1119.0 L1152.1 1113.6 L1154.9 1108.2 L1158.4 1103.2 L1162.0 1101.5 L1166.7 1105.5 L1169.9 1110.9 L1172.8 1116.4 L1176.1 1121.5 L1180.2 1123.9 L1185.1 1120.2 L1188.5 1115.0 L1191.7 1109.9 L1196.0 1105.6 L1200.0 1105.7 L1204.2 1110.2 L1207.6 1115.4 L1211.0 1120.4 L1213.9 1123.2"/>
<path stroke="#00ff00" d="M789.8 1107.4 L791.0 1107.8 L793.8 1113.4 L795.8 1119.1 L798.4 1123.7 L799.5 1123.8 L802.4 1118.5 L804.3 1112.7 L806.7 1107.1 L808.1 1105.9 L809.4 1106.8 L811.9 1112.4 L813.8 1118.3 L816.5 1123.6 L817.5 1123.8 L819.9 1119.7 L821.8 1113.6 L823.7 1107.8 L825.7 1104.5 L826.7 1104.4 L829.5 1109.9 L831.3 1115.9 L833.3 1121.7 L834.9 1123.8 L835.8 1123.7 L838.4 1118.3 L840.0 1112.3 L841.8 1106.3 L843.8 1102.7 L844.7 1102.6 L846.8 1106.2 L848.6 1112.2 L850.3 1118.3 L852.6 1123.6 L853.5 1123.9 L855.0 1122.0 L856.9 1116.0 L858.4 1109.7 L860.1 1103.9 L861.9 1100.6 L862.7 1100.4 L864.2 1102.7 L866.0 1108.5 L867.5 1114.4 L869.2 1120.4 L870.8 1123.7 L871.6 1123.8 L873.1 1121.7 L874.9 1115.5 L876.2 1109.6 L877.6 1103.6 L879.8 1098.4 L880.5 1098.0 L881.7 1099.1 L883.7 1105.2 L885.0 1111.0 L886.3 1116.9 L888.2 1122.8 L889.2 1123.9 L890.0 1123.5 L892.2 1117.8 L893.5 1111.7 L894.7 1105.6 L896.2 1099.5 L898.0 1095.4 L898.6 1095.2 L899.7 1096.5 L901.5 1102.4 L902.9 1108.8 L904.1 1114.9 L905.5 1120.8 L907.0 1123.8 L907.7 1123.8 L909.0 1121.5 L910.6 1115.1 L911.7 1109.2 L912.8 1103.1 L914.1 1096.8 L915.9 1092.2 L916.6 1091.9 L917.5 1092.9 L919.3 1098.8 L920.5 1105.1 L921.6 1111.4 L922.8 1117.7 L924.7 1123.5 L925.4 1123.9 L926.2 1123.2 L928.0 1117.0 L929.1 1110.9 L930.1 1104.7 L931.1 1098.7 L932.3 1092.6 L933.9 1088.4 L934.6 1088.1 L935.5 1089.1 L937.1 1095.2 L938.2 1101.5 L939.3 1107.8 L940.3 1113.9 L941.5 1120.1 L942.8 1123.6 L943.4 1123.9 L944.2 1123.0 L945.7 1117.2 L946.7 1111.2 L947.6 1105.1 L948.5 1098.9 L949.5 1092.5 L950.7 1086.6 L952.0 1083.7 L952.5 1083.5 L953.4 1084.8 L955.0 1091.2 L956.0 1097.4 L956.9 1103.7 L957.8 1110.0 L958.8 1116.4 L960.1 1122.3 L961.0 1123.8 L961.5 1123.8 L962.5 1121.7 L963.7 1115.8 L964.6 1109.7 L965.4 1103.6 L966.2 1097.4 L967.0 1090.7 L968.0 1084.3 L969.7 1078.4 L970.3 1078.0 L970.8 1078.4 L972.5 1084.6 L973.5 1091.1 L974.3 1097.1 L975.1 1103.5 L975.9 1109.7 L976.8 1116.0 L978.0 1122.1 L978.8 1123.8 L979.2 1123.9 L980.0 1122.5 L981.3 1116.0 L982.2 1109.3 L983.0 1102.5 L983.7 1096.4 L984.3 1090.4 L985.1 1083.9 L986.0 1077.7 L987.6 1071.7 L988.0 1071.3 L988.5 1071.6 L989.8 1075.8 L990.8 1082.2 L991.6 1088.5 L992.3 1094.6 L992.9 1100.9 L993.6 1107.1 L994.4 1113.6 L995.4 1120.1 L996.5 1123.7 L996.8 1123.9 L997.3 1123.5 L998.7 1117.3 L999.5 1111.3 L1000.2 1105.0 L1000.9 1098.2 L1001.5 1091.1 L1002.2 1084.2 L1002.9 1077.8 L1003.7 1071.4 L1004.8 1065.2 L1005.6 1063.3 L1005.9 1063.1 L1006.4 1063.7 L1007.8 1069.6 L1008.6 1075.6 L1009.2 1081.8 L1009.9 1088.8 L1010.5 1094.9 L1011.0 1100.9 L1011.7 1107.9 L1012.4 1114.0 L1013.3 1120.2 L1014.3 1123.7 L1014.6 1123.9 L1015.0 1123.4 L1016.4 1116.7 L1017.2 1109.7 L1017.7 1103.7 L1018.3 1097.2 L1018.8 1090.3 L1019.4 1083.4 L1020.0 1076.7 L1020.5 1070.4 L1021.2 1063.9 L1022.1 1057.3 L1023.2 1053.1 L1023.5 1052.9 L1024.0 1053.3 L1025.3 1059.4 L1026.1 1066.0 L1026.8 1073.0 L1027.3 1079.7 L1027.9 1086.7 L1028.4 1093.9 L1029.0 1101.0 L1029.5 1107.6 L1030.2 1114.4 L1031.1 1121.0 L1031.9 1123.7 L1032.2 1123.9 L1032.7 1123.2 L1033.8 1117.0 L1034.5 1110.5 L1035.0 1103.8 L1035.6 1096.2 L1036.0 1089.8 L1036.5 1083.2 L1036.9 1076.7 L1037.4 1070.2 L1037.8 1064.1 L1038.4 1057.1 L1038.9 1051.1 L1039.7 1044.6 L1040.7 1040.3 L1041.0 1039.9 L1041.4 1040.1 L1042.3 1043.3 L1043.2 1050.2 L1043.7 1056.2 L1044.3 1063.3 L1044.7 1069.5 L1045.2 1076.1 L1045.6 1083.0 L1046.1 1089.9 L1046.5 1096.6 L1047.0 1103.0 L1047.5 1110.1 L1048.1 1116.1 L1049.0 1122.4 L1049.5 1123.8 L1049.8 1123.9 L1050.2 1122.9 L1051.2 1116.1 L1051.8 1109.8 L1052.2 1103.7 L1052.7 1096.8 L1053.1 1089.4 L1053.5 1081.6 L1054.0 1073.6 L1054.4 1065.7 L1054.9 1058.0 L1055.3 1050.7 L1055.8 1044.1 L1056.3 1036.8 L1057.0 1029.9 L1058.1 1023.7 L1058.5 1023.2 L1058.7 1023.3 L1059.4 1025.3 L1060.2 1031.9 L1060.8 1038.2 L1061.2 1044.2 L1061.7 1051.1 L1062.1 1058.7 L1062.6 1066.7 L1062.9 1072.9 L1063.3 1079.2 L1063.6 1085.4 L1063.9 1091.5 L1064.4 1099.3 L1064.8 1106.4 L1065.3 1112.5 L1065.8 1118.6 L1066.7 1123.6 L1066.9 1123.9 L1067.2 1123.8 L1067.8 1120.9 L1068.5 1114.4 L1069.0 1108.3 L1069.4 1100.9 L1069.7 1094.7 L1070.1 1088.1 L1070.4 1081.1 L1070.7 1073.9 L1071.1 1066.6 L1071.4 1059.2 L1071.7 1051.9 L1072.1 1044.8 L1072.4 1038.1 L1072.7 1031.6 L1073.2 1023.8 L1073.6 1017.0 L1074.2 1010.0 L1075.0 1003.5 L1075.5 1001.5 L1075.8 1001.3 L1076.1 1001.7 L1077.1 1007.7 L1077.7 1014.0 L1078.1 1020.5 L1078.5 1028.1 L1078.9 1034.5 L1079.2 1041.3 L1079.6 1048.6 L1079.9 1056.1 L1080.2 1063.8 L1080.6 1071.6 L1080.9 1079.4 L1081.2 1086.9 L1081.6 1094.1 L1081.9 1100.8 L1082.2 1106.9 L1082.7 1113.8 L1083.2 1120.1 L1083.9 1123.7 L1084.1 1123.9 L1084.5 1123.1 L1085.2 1116.6 L1085.7 1110.1 L1086.0 1104.1 L1086.4 1097.2 L1086.7 1089.5 L1087.0 1081.2 L1087.4 1072.4 L1087.6 1066.4 L1087.8 1060.3 L1088.0 1054.1 L1088.3 1047.9 L1088.5 1041.8 L1088.7 1035.7 L1089.0 1026.8 L1089.4 1018.2 L1089.7 1010.2 L1090.0 1002.7 L1090.4 995.8 L1090.7 989.8 L1091.2 982.9 L1091.7 976.6 L1092.5 972.1 L1092.7 971.8 L1092.9 972.0 L1093.6 975.1 L1094.3 982.2 L1094.7 989.1 L1095.1 995.3 L1095.4 1002.3 L1095.7 1010.0 L1096.1 1018.5 L1096.4 1027.5 L1096.6 1033.7 L1096.9 1040.1 L1097.1 1046.6 L1097.3 1053.2 L1097.5 1059.8 L1097.7 1066.4 L1098.0 1072.9 L1098.2 1079.3 L1098.4 1085.4 L1098.8 1094.2 L1099.1 1102.1 L1099.4 1109.1 L1099.9 1116.5 L1100.5 1123.0 L1100.8 1123.8 L1100.9 1123.9 L1101.1 1123.6 L1101.8 1118.2 L1102.2 1111.1 L1102.5 1104.1 L1102.9 1095.7 L1103.1 1089.5 L1103.3 1082.9 L1103.6 1075.9 L1103.8 1068.5 L1104.0 1060.9 L1104.2 1053.1 L1104.4 1045.2 L1104.7 1037.2 L1104.9 1029.2 L1105.1 1021.2 L1105.3 1013.4 L1105.6 1005.7 L1105.8 998.1 L1106.0 990.9 L1106.2 983.9 L1106.5 977.2 L1106.7 970.9 L1107.0 962.1 L1107.3 954.3 L1107.7 947.6 L1108.1 940.3 L1108.7 934.2 L1109.2 931.4 L1109.4 931.3 L1109.6 931.5 L1110.2 935.4 L1110.8 942.5 L1111.3 950.7 L1111.6 958.2 L1111.9 966.9 L1112.1 973.2 L1112.4 980.0 L1112.6 987.2 L1112.8 994.8 L1113.0 1002.7 L1113.3 1010.9 L1113.5 1019.3 L1113.7 1027.8 L1113.9 1036.5 L1114.2 1045.2 L1114.4 1053.9 L1114.6 1062.4 L1114.8 1070.7 L1115.0 1078.8 L1115.3 1086.4 L1115.5 1093.6 L1115.7 1100.2 L1116.1 1108.9 L1116.4 1115.8 L1116.8 1121.8 L1117.2 1123.8 L1117.3 1123.9 L1117.5 1123.3 L1118.1 1117.3 L1118.4 1110.5 L1118.7 1101.6 L1119.0 1094.6 L1119.2 1086.8 L1119.4 1078.3 L1119.6 1069.2 L1119.8 1059.5 L1120.1 1049.5 L1120.3 1039.1 L1120.5 1028.5 L1120.7 1017.8 L1121.0 1007.1 L1121.2 996.4 L1121.4 985.8 L1121.6 975.4 L1121.9 965.3 L1122.1 955.5 L1122.3 946.1 L1122.5 937.1 L1122.7 928.6 L1123.0 920.6 L1123.2 913.2 L1123.4 906.4 L1123.6 900.1 L1124.0 892.0 L1124.3 885.3 L1124.8 878.8 L1125.3 874.7 L1125.5 874.3 L1125.8 874.6 L1126.4 880.1 L1126.9 887.5 L1127.2 894.9 L1127.5 904.0 L1127.8 911.0 L1128.0 918.6 L1128.2 926.9 L1128.4 935.9 L1128.7 945.4 L1128.9 955.5 L1129.1 966.2 L1129.3 977.2 L1129.6 988.6 L1129.8 1000.4 L1130.0 1012.3 L1130.2 1024.3 L1130.5 1036.2 L1130.7 1048.0 L1130.9 1059.5 L1131.1 1070.5 L1131.3 1080.9 L1131.6 1090.5 L1131.8 1099.2 L1132.0 1106.8 L1132.2 1113.2 L1132.6 1120.1 L1132.9 1123.5 L1133.0 1123.9 L1133.1 1123.8 L1133.5 1121.0 L1133.8 1114.4 L1134.0 1108.0 L1134.2 1100.0 L1134.5 1090.6 L1134.7 1079.9 L1134.9 1068.1 L1135.0 1061.8 L1135.1 1055.3 L1135.2 1048.6 L1135.4 1041.7 L1135.5 1034.7 L1135.6 1027.5 L1135.7 1020.2 L1135.8 1012.8 L1135.9 1005.3 L1136.0 997.8 L1136.1 990.2 L1136.3 982.7 L1136.4 975.1 L1136.5 967.5 L1136.6 960.0 L1136.7 952.6 L1136.8 945.2 L1136.9 937.8 L1137.0 930.6 L1137.1 923.5 L1137.3 916.5 L1137.4 909.6 L1137.5 902.9 L1137.6 896.3 L1137.7 889.9 L1137.8 883.6 L1137.9 877.5 L1138.2 865.9 L1138.4 855.0 L1138.6 844.9 L1138.8 835.7 L1139.0 827.3 L1139.3 819.7 L1139.5 813.1 L1139.8 804.9 L1140.2 798.7 L1140.7 793.1 L1140.9 792.6 L1141.2 793.0 L1141.8 800.3 L1142.2 807.3 L1142.5 816.6 L1142.7 824.2 L1143.0 832.7 L1143.2 842.4 L1143.4 853.0 L1143.6 864.7 L1143.7 870.9 L1143.8 877.4 L1144.0 884.1 L1144.1 891.0 L1144.2 898.2 L1144.3 905.6 L1144.4 913.2 L1144.5 921.0 L1144.6 928.9 L1144.7 937.1 L1144.8 945.4 L1145.0 953.9 L1145.1 962.5 L1145.2 971.1 L1145.3 979.9 L1145.4 988.7 L1145.5 997.6 L1145.6 1006.4 L1145.7 1015.2 L1145.9 1023.9 L1146.0 1032.6 L1146.1 1041.0 L1146.2 1049.4 L1146.3 1057.4 L1146.4 1065.3 L1146.5 1072.8 L1146.6 1080.0 L1146.7 1086.7 L1146.9 1093.1 L1147.1 1104.3 L1147.3 1113.2 L1147.5 1119.6 L1147.9 1123.8 L1148.0 1123.8 L1148.3 1118.9 L1148.5 1111.8 L1148.8 1101.7 L1148.9 1095.7 L1149.0 1088.9 L1149.1 1081.6 L1149.2 1073.6 L1149.3 1065.1 L1149.4 1056.2 L1149.5 1046.7 L1149.6 1036.9 L1149.8 1026.7 L1149.9 1016.1 L1150.0 1005.4 L1150.1 994.4 L1150.2 983.2 L1150.3 971.9 L1150.4 960.5 L1150.5 949.1 L1150.7 937.7 L1150.8 926.3 L1150.9 914.9 L1151.0 903.7 L1151.1 892.6 L1151.2 881.6 L1151.3 870.8 L1151.4 860.2 L1151.5 849.8 L1151.7 839.7 L1151.8 829.8 L1151.9 820.1 L1152.0 810.8 L1152.1 801.7 L1152.2 792.9 L1152.3 784.4 L1152.4 776.2 L1152.6 768.3 L1152.7 760.7 L1152.8 753.5 L1152.9 746.5 L1153.0 739.9 L1153.1 733.6 L1153.3 722.0 L1153.6 711.6 L1153.8 702.6 L1154.0 694.8 L1154.2 688.4 L1154.6 681.0 L1155.0 675.8 L1155.2 675.1 L1155.5 675.7 L1156.0 683.3 L1156.3 692.1 L1156.6 699.8 L1156.8 709.2 L1157.0 720.1 L1157.1 726.2 L1157.2 732.7 L1157.3 739.7 L1157.5 747.1 L1157.6 754.9 L1157.7 763.2 L1157.8 772.0 L1157.9 781.2 L1158.0 790.9 L1158.1 801.1 L1158.2 811.7 L1158.4 822.8 L1158.5 834.3 L1158.6 846.3 L1158.7 858.7 L1158.8 871.5 L1158.9 884.7 L1159.0 898.3 L1159.1 912.1 L1159.2 926.2 L1159.4 940.6 L1159.5 955.1 L1159.6 969.6 L1159.7 984.2 L1159.8 998.6 L1159.9 1012.9 L1160.0 1026.9 L1160.1 1040.4 L1160.3 1053.4 L1160.4 1065.8 L1160.5 1077.3 L1160.6 1087.8 L1160.7 1097.2 L1160.8 1105.4 L1160.9 1112.3 L1161.1 1121.4 L1161.3 1123.5 L1161.4 1123.8 L1161.6 1119.1 L1161.8 1107.2 L1161.9 1098.7 L1162.0 1088.5 L1162.1 1076.8 L1162.3 1063.6 L1162.4 1049.2 L1162.5 1033.7 L1162.6 1017.1 L1162.7 999.7 L1162.8 981.7 L1162.9 963.1 L1163.0 944.1 L1163.2 924.9 L1163.3 905.6 L1163.4 886.3 L1163.5 867.2 L1163.6 848.2 L1163.7 829.5 L1163.8 811.2 L1163.9 793.3 L1164.0 775.9 L1164.2 759.0 L1164.3 742.7 L1164.4 727.0 L1164.5 711.8 L1164.6 697.3 L1164.7 683.3 L1164.8 670.0 L1164.9 657.3 L1165.1 645.2 L1165.2 633.7 L1165.3 622.8 L1165.4 612.5 L1165.5 602.7 L1165.6 593.5 L1165.7 584.9 L1165.8 576.8 L1165.9 569.3 L1166.1 562.2 L1166.2 555.7 L1166.3 549.6 L1166.5 538.9 L1166.7 530.1 L1166.9 523.1 L1167.3 515.9 L1167.6 512.6 L1167.7 512.4 L1168.0 513.4 L1168.4 521.1 L1168.6 528.1 L1168.8 537.4 L1169.1 549.3 L1169.2 556.3 L1169.3 564.0 L1169.4 572.5 L1169.5 581.9 L1169.6 592.1 L1169.7 603.3 L1169.9 615.5 L1170.0 628.7 L1170.1 643.1 L1170.2 658.7 L1170.3 675.5 L1170.4 693.6 L1170.5 713.1 L1170.6 734.0 L1170.7 756.4 L1170.9 780.2 L1171.0 805.3 L1171.1 831.9 L1171.2 859.6 L1171.3 888.4 L1171.4 917.9 L1171.5 947.9 L1171.6 977.7 L1171.7 1006.9 L1171.9 1034.7 L1172.0 1060.3 L1172.1 1082.7 L1172.2 1101.1 L1172.3 1114.6 L1172.4 1122.3 L1172.5 1123.6 L1172.8 1106.0 L1172.9 1087.2 L1173.0 1062.4 L1173.1 1032.4 L1173.2 998.2 L1173.3 960.9 L1173.4 921.4 L1173.5 880.9 L1173.6 840.2 L1173.8 800.0 L1173.9 760.9 L1174.0 723.3 L1174.1 687.7 L1174.2 654.1 L1174.3 622.6 L1174.4 593.3 L1174.5 566.2 L1174.6 541.2 L1174.8 518.1 L1174.9 496.9 L1175.0 477.5 L1175.1 459.7 L1175.2 443.5 L1175.3 428.7 L1175.4 415.2 L1175.5 402.9 L1175.7 391.7 L1175.8 381.5 L1175.9 372.3 L1176.0 364.0 L1176.1 356.5 L1176.2 349.8 L1176.3 343.8 L1176.5 333.8 L1176.8 326.2 L1177.1 319.3 L1177.3 317.6 L1177.4 317.6 L1177.8 321.6 L1178.0 328.2 L1178.2 338.9 L1178.3 346.1 L1178.4 354.9 L1178.6 365.5 L1178.7 378.4 L1178.8 394.0 L1178.9 413.0 L1179.0 436.2 L1179.1 464.7 L1179.2 500.1 L1179.3 544.0 L1179.4 598.9 L1179.6 667.2 L1179.7 751.4 L1179.8 851.2 L1179.9 960.7 L1180.0 1061.2 L1180.1 1120.0 L1180.2 1103.2 L1180.3 1006.1 L1180.5 861.2 L1180.6 711.0 L1180.7 581.2 L1180.8 479.0 L1180.9 402.0 L1181.0 344.9 L1181.1 302.4 L1181.2 270.7 L1181.3 246.8 L1181.5 228.5 L1181.6 214.3 L1181.7 203.2 L1181.8 194.4 L1181.9 187.4 L1182.1 177.1 L1182.4 170.2 L1182.7 163.6 L1183.4 157.0 L1184.8 152.6 L1190.7 151.1 L1196.7 151.1 L1202.8 151.1 L1208.8 151.1 L1214.8 151.1 L1220.9 151.1 L1226.9 151.1 L1232.9 151.1 L1238.9 151.1 L1245.0 151.1 L1251.0 151.1 L1257.0 151.1 L1263.0 151.1 L1269.1 151.1 L1275.1 151.1 L1281.1 151.1 L1287.2 151.1 L1293.2 151.1 L1298.5 152.0 L1299.8 153.6 L1300.7 157.0 L1301.3 163.6 L1301.7 170.2 L1301.9 177.2 L1302.1 187.5 L1302.2 194.5 L1302.3 203.3 L1302.4 214.4 L1302.6 228.6 L1302.7 247.0 L1302.8 271.0 L1302.9 302.8 L1303.0 345.2 L1303.1 402.5 L1303.2 479.6 L1303.3 581.8 L1303.5 711.7 L1303.6 861.8 L1303.7 1006.5 L1303.8 1103.4 L1303.9 1119.9 L1304.0 1061.1 L1304.1 960.6 L1304.2 851.2 L1304.3 751.4 L1304.5 667.4 L1304.6 599.0 L1304.7 544.1 L1304.8 500.2 L1304.9 464.9 L1305.0 436.3 L1305.1 413.1 L1305.2 394.1 L1305.4 378.5 L1305.5 365.6 L1305.6 354.9 L1305.7 346.2 L1305.8 338.9 L1306.0 328.3 L1306.2 321.7 L1306.6 317.6 L1306.7 317.6 L1307.0 321.0 L1307.4 329.6 L1307.6 338.3 L1307.8 349.6 L1307.9 356.3 L1308.0 363.8 L1308.1 372.1 L1308.3 381.2 L1308.4 391.4 L1308.5 402.5 L1308.6 414.8 L1308.7 428.2 L1308.8 443.0 L1308.9 459.2 L1309.0 476.9 L1309.1 496.2 L1309.3 517.3 L1309.4 540.3 L1309.5 565.3 L1309.6 592.3 L1309.7 621.5 L1309.8 652.9 L1309.9 686.4 L1310.0 721.9 L1310.2 759.3 L1310.3 798.3 L1310.4 838.5 L1310.5 879.2 L1310.6 919.7 L1310.7 959.2 L1310.8 996.6 L1310.9 1030.9 L1311.0 1061.1 L1311.2 1086.1 L1311.3 1105.2 L1311.4 1117.7 L1311.5 1123.5 L1311.6 1122.5 L1311.7 1115.1 L1311.8 1102.0 L1311.9 1083.8 L1312.0 1061.6 L1312.2 1036.2 L1312.3 1008.5 L1312.4 979.4 L1312.5 949.6 L1312.6 919.7 L1312.7 890.1 L1312.8 861.3 L1312.9 833.5 L1313.1 806.9 L1313.2 781.7 L1313.3 757.8 L1313.4 735.4 L1313.5 714.4 L1313.6 694.9 L1313.7 676.7 L1313.8 659.8 L1313.9 644.1 L1314.1 629.7 L1314.2 616.4 L1314.3 604.1 L1314.4 592.9 L1314.5 582.6 L1314.6 573.2 L1314.7 564.6 L1314.8 556.8 L1315.0 549.8 L1315.1 543.5 L1315.3 532.8 L1315.5 524.6 L1315.8 516.4 L1316.2 512.7 L1316.3 512.4 L1316.4 512.6 L1316.8 517.6 L1317.2 526.0 L1317.4 533.9 L1317.6 543.5 L1317.9 555.0 L1318.0 561.5 L1318.1 568.5 L1318.2 576.0 L1318.3 584.1 L1318.4 592.6 L1318.5 601.8 L1318.6 611.4 L1318.7 621.7 L1318.9 632.5 L1319.0 643.9 L1319.1 656.0 L1319.2 668.6 L1319.3 681.8 L1319.4 695.7 L1319.5 710.2 L1319.6 725.2 L1319.7 740.9 L1319.9 757.2 L1320.0 774.0 L1320.1 791.3 L1320.2 809.1 L1320.3 827.4 L1320.4 846.0 L1320.5 864.9 L1320.6 884.0 L1320.8 903.3 L1320.9 922.6 L1321.0 941.8 L1321.1 960.8 L1321.2 979.4 L1321.3 997.5 L1321.4 1015.0 L1321.5 1031.6 L1321.6 1047.3 L1321.8 1061.9 L1321.9 1075.2 L1322.0 1087.1 L1322.1 1097.4 L1322.2 1106.2 L1322.3 1113.3 L1322.5 1122.0 L1322.7 1123.7 L1322.8 1123.6 L1323.1 1113.1 L1323.2 1106.5 L1323.3 1098.5 L1323.4 1089.2 L1323.5 1078.8 L1323.7 1067.5 L1323.8 1055.3 L1323.9 1042.4 L1324.0 1028.9 L1324.1 1015.0 L1324.2 1000.8 L1324.3 986.4 L1324.4 971.8 L1324.5 957.3 L1324.7 942.8 L1324.8 928.4 L1324.9 914.3 L1325.0 900.4 L1325.1 886.8 L1325.2 873.6 L1325.3 860.7 L1325.4 848.3 L1325.6 836.2 L1325.7 824.6 L1325.8 813.5 L1325.9 802.8 L1326.0 792.6 L1326.1 782.8 L1326.2 773.5 L1326.3 764.7 L1326.4 756.3 L1326.6 748.4 L1326.7 740.9 L1326.8 733.9 L1326.9 727.3 L1327.0 721.1 L1327.2 710.0 L1327.5 700.6 L1327.7 692.7 L1327.9 686.4 L1328.2 679.5 L1328.7 675.3 L1328.8 675.1 L1328.9 675.2 L1329.3 678.9 L1329.7 685.1 L1330.0 694.1 L1330.2 701.8 L1330.5 710.7 L1330.7 720.9 L1330.9 732.3 L1331.0 738.6 L1331.1 745.1 L1331.2 752.0 L1331.4 759.2 L1331.5 766.6 L1331.6 774.5 L1331.7 782.6 L1331.8 791.0 L1331.9 799.7 L1332.0 808.7 L1332.1 818.0 L1332.3 827.6 L1332.4 837.5 L1332.5 847.5 L1332.6 857.9 L1332.7 868.4 L1332.8 879.1 L1332.9 890.1 L1333.0 901.1 L1333.1 912.3 L1333.3 923.6 L1333.4 935.0 L1333.5 946.4 L1333.6 957.9 L1333.7 969.2 L1333.8 980.5 L1333.9 991.7 L1334.0 1002.8 L1334.1 1013.6 L1334.3 1024.2 L1334.4 1034.4 L1334.5 1044.4 L1334.6 1053.9 L1334.7 1063.0 L1334.8 1071.6 L1334.9 1079.7 L1335.0 1087.2 L1335.2 1094.1 L1335.3 1100.3 L1335.5 1110.7 L1335.7 1118.2 L1336.0 1123.6 L1336.2 1123.9 L1336.4 1122.2 L1336.7 1114.2 L1336.9 1105.6 L1337.2 1094.7 L1337.3 1088.5 L1337.4 1081.8 L1337.5 1074.8 L1337.6 1067.4 L1337.7 1059.6 L1337.8 1051.6 L1337.9 1043.4 L1338.1 1034.9 L1338.2 1026.3 L1338.3 1017.6 L1338.4 1008.9 L1338.5 1000.0 L1338.6 991.2 L1338.7 982.4 L1338.8 973.6 L1338.9 964.9 L1339.1 956.3 L1339.2 947.8 L1339.3 939.5 L1339.4 931.3 L1339.5 923.3 L1339.6 915.4 L1339.7 907.8 L1339.8 900.3 L1340.0 893.1 L1340.1 886.1 L1340.2 879.3 L1340.3 872.8 L1340.4 866.5 L1340.5 860.5 L1340.7 849.2 L1341.0 838.9 L1341.2 829.7 L1341.4 821.5 L1341.6 814.3 L1341.8 808.2 L1342.2 800.9 L1342.6 794.8 L1343.0 792.8 L1343.1 792.6 L1343.2 792.7 L1343.6 795.4 L1344.1 801.8 L1344.4 809.2 L1344.6 815.2 L1344.9 822.1 L1345.1 829.9 L1345.3 838.6 L1345.5 848.1 L1345.8 858.4 L1346.0 869.5 L1346.2 881.4 L1346.3 887.6 L1346.4 894.0 L1346.5 900.5 L1346.6 907.1 L1346.8 914.0 L1346.9 920.9 L1347.0 928.0 L1347.1 935.1 L1347.2 942.4 L1347.3 949.8 L1347.4 957.2 L1347.5 964.7 L1347.7 972.2 L1347.8 979.8 L1347.9 987.4 L1348.0 994.9 L1348.1 1002.5 L1348.2 1009.9 L1348.3 1017.4 L1348.4 1024.7 L1348.5 1031.9 L1348.7 1039.0 L1348.8 1046.0 L1348.9 1052.7 L1349.0 1059.3 L1349.1 1065.7 L1349.2 1071.8 L1349.4 1083.3 L1349.7 1093.6 L1349.9 1102.5 L1350.1 1110.0 L1350.4 1118.4 L1350.9 1123.6 L1351.0 1123.9 L1351.1 1123.7 L1351.6 1119.0 L1351.9 1111.5 L1352.1 1104.8 L1352.3 1096.9 L1352.6 1087.9 L1352.8 1078.0 L1353.0 1067.5 L1353.2 1056.3 L1353.5 1044.7 L1353.7 1032.9 L1353.9 1020.9 L1354.1 1009.0 L1354.4 997.1 L1354.6 985.5 L1354.8 974.2 L1355.0 963.2 L1355.2 952.8 L1355.5 942.8 L1355.7 933.4 L1355.9 924.7 L1356.1 916.5 L1356.4 909.1 L1356.6 902.3 L1356.8 896.3 L1357.1 888.6 L1357.5 882.5 L1358.0 876.1 L1358.4 874.5 L1358.5 874.3 L1358.6 874.3 L1358.9 875.4 L1359.6 882.5 L1360.0 890.7 L1360.4 898.6 L1360.6 904.7 L1360.8 911.3 L1361.0 918.6 L1361.3 926.4 L1361.5 934.8 L1361.7 943.6 L1361.9 952.9 L1362.2 962.6 L1362.4 972.6 L1362.6 982.9 L1362.8 993.4 L1363.1 1004.1 L1363.3 1014.8 L1363.5 1025.5 L1363.7 1036.2 L1363.9 1046.6 L1364.2 1056.7 L1364.4 1066.5 L1364.6 1075.7 L1364.8 1084.4 L1365.1 1092.4 L1365.3 1099.7 L1365.5 1106.1 L1365.8 1114.0 L1366.3 1121.0 L1366.6 1123.5 L1366.7 1123.8 L1366.9 1123.9 L1367.2 1122.4 L1367.7 1115.0 L1368.1 1107.9 L1368.4 1099.0 L1368.6 1092.3 L1368.9 1085.1 L1369.1 1077.3 L1369.3 1069.3 L1369.5 1060.9 L1369.8 1052.3 L1370.0 1043.7 L1370.2 1035.0 L1370.4 1026.3 L1370.6 1017.8 L1370.9 1009.4 L1371.1 1001.3 L1371.3 993.5 L1371.5 986.0 L1371.8 978.9 L1372.0 972.2 L1372.2 965.9 L1372.5 957.4 L1372.9 950.0 L1373.2 943.8 L1373.7 937.4 L1374.4 931.7 L1374.7 931.3 L1374.9 931.5 L1375.6 935.4 L1376.1 942.4 L1376.6 950.3 L1376.9 957.5 L1377.2 965.7 L1377.6 974.8 L1377.8 981.3 L1378.0 988.2 L1378.2 995.3 L1378.5 1002.8 L1378.7 1010.4 L1378.9 1018.2 L1379.1 1026.1 L1379.4 1034.1 L1379.6 1042.1 L1379.8 1050.1 L1380.0 1057.9 L1380.2 1065.6 L1380.5 1073.0 L1380.7 1080.2 L1380.9 1086.9 L1381.1 1093.3 L1381.5 1101.9 L1381.8 1109.3 L1382.3 1117.0 L1382.9 1123.2 L1383.1 1123.9 L1383.3 1123.9 L1383.6 1122.9 L1384.3 1116.3 L1384.7 1108.7 L1385.0 1101.7 L1385.4 1093.8 L1385.7 1085.0 L1385.9 1078.9 L1386.2 1072.5 L1386.4 1066.0 L1386.6 1059.4 L1386.8 1052.8 L1387.1 1046.3 L1387.3 1039.8 L1387.5 1033.4 L1387.7 1027.1 L1387.9 1021.1 L1388.3 1012.5 L1388.6 1004.6 L1389.0 997.3 L1389.3 990.9 L1389.7 983.7 L1390.3 977.0 L1391.1 972.2 L1391.3 971.8 L1391.5 971.9 L1392.1 974.0 L1392.7 980.1 L1393.2 986.2 L1393.6 993.8 L1394.0 1000.3 L1394.3 1007.6 L1394.6 1015.5 L1395.0 1023.8 L1395.3 1032.6 L1395.5 1038.7 L1395.8 1044.8 L1396.0 1050.9 L1396.2 1057.1 L1396.4 1063.3 L1396.7 1069.3 L1397.0 1078.2 L1397.3 1086.6 L1397.7 1094.5 L1398.0 1101.7 L1398.3 1108.1 L1398.8 1115.1 L1399.3 1121.0 L1399.9 1123.7 L1400.1 1123.9 L1400.4 1123.1 L1401.2 1116.8 L1401.7 1110.7 L1402.1 1103.1 L1402.5 1096.7 L1402.8 1089.7 L1403.1 1082.3 L1403.5 1074.6 L1403.8 1066.8 L1404.1 1059.1 L1404.5 1051.5 L1404.8 1044.1 L1405.1 1037.1 L1405.5 1030.6 L1405.8 1024.5 L1406.3 1017.4 L1406.8 1010.2 L1407.6 1003.6 L1408.1 1001.5 L1408.4 1001.3 L1408.6 1001.4 L1409.4 1004.7 L1410.0 1010.9 L1410.6 1018.1 L1411.1 1025.2 L1411.5 1033.1 L1411.8 1039.6 L1412.2 1046.5 L1412.5 1053.6 L1412.8 1060.9 L1413.2 1068.2 L1413.5 1075.6 L1413.8 1082.7 L1414.2 1089.6 L1414.5 1096.2 L1414.8 1102.2 L1415.3 1109.3 L1415.9 1116.5 L1416.6 1122.6 L1417.1 1123.8 L1417.3 1123.9 L1417.7 1122.7 L1418.6 1115.7 L1419.2 1108.7 L1419.6 1101.9 L1420.1 1094.4 L1420.4 1088.4 L1420.8 1082.2 L1421.1 1076.0 L1421.4 1069.7 L1421.8 1063.6 L1422.2 1055.7 L1422.7 1048.4 L1423.1 1041.9 L1423.7 1034.8 L1424.3 1028.4 L1425.3 1023.5 L1425.7 1023.2 L1426.0 1023.6 L1427.1 1029.4 L1427.8 1036.0 L1428.4 1043.1 L1428.8 1049.7 L1429.2 1056.9 L1429.7 1064.5 L1430.1 1072.4 L1430.6 1080.3 L1431.0 1088.2 L1431.5 1095.7 L1431.9 1102.6 L1432.4 1108.9 L1432.9 1115.4 L1433.7 1121.6 L1434.4 1123.8 L1434.6 1123.9 L1435.0 1123.1 L1436.1 1116.9 L1436.7 1109.8 L1437.3 1102.6 L1437.7 1096.2 L1438.2 1089.5 L1438.6 1082.6 L1439.1 1075.8 L1439.5 1069.2 L1440.0 1063.0 L1440.5 1056.0 L1441.2 1049.0 L1442.1 1042.6 L1442.9 1040.1 L1443.2 1039.9 L1443.6 1040.6 L1444.9 1047.2 L1445.5 1053.5 L1446.1 1059.9 L1446.7 1067.2 L1447.1 1073.5 L1447.5 1080.0 L1448.0 1086.6 L1448.4 1093.1 L1448.9 1099.3 L1449.4 1106.5 L1450.0 1112.8 L1450.8 1119.5 L1451.7 1123.5 L1452.0 1123.9 L1452.3 1123.7 L1453.4 1119.7 L1454.1 1113.5 L1454.8 1106.5 L1455.4 1099.8 L1455.9 1092.7 L1456.5 1085.6 L1457.0 1078.6 L1457.6 1072.0 L1458.3 1065.1 L1459.0 1058.8 L1460.3 1053.3 L1460.7 1052.9 L1461.2 1053.3 L1462.5 1059.2 L1463.3 1065.6 L1464.0 1072.4 L1464.5 1078.8 L1465.1 1085.6 L1465.6 1092.5 L1466.2 1099.3 L1466.7 1105.7 L1467.4 1112.5 L1468.2 1118.7 L1469.3 1123.5 L1469.6 1123.9 L1470.0 1123.8 L1470.9 1121.1 L1471.9 1114.5 L1472.6 1108.5 L1473.2 1101.6 L1473.8 1095.6 L1474.3 1089.5 L1475.0 1082.5 L1475.7 1076.2 L1476.5 1070.1 L1477.7 1064.2 L1478.4 1063.1 L1478.7 1063.2 L1479.6 1065.3 L1480.7 1071.6 L1481.5 1078.0 L1482.2 1084.4 L1482.8 1091.3 L1483.5 1098.4 L1484.2 1105.2 L1484.8 1111.5 L1485.6 1117.4 L1486.9 1123.3 L1487.4 1123.9 L1487.7 1123.8 L1488.7 1121.1 L1489.9 1114.4 L1490.6 1108.0 L1491.3 1102.0 L1492.0 1095.7 L1492.6 1089.6 L1493.4 1083.1 L1494.3 1077.1 L1495.8 1071.7 L1496.2 1071.3 L1496.7 1071.6 L1498.1 1076.4 L1499.1 1082.8 L1499.9 1089.2 L1500.7 1096.1 L1501.3 1102.2 L1502.1 1109.0 L1502.9 1115.0 L1504.0 1121.2 L1505.0 1123.8 L1505.5 1123.9 L1506.3 1122.6 L1507.6 1116.3 L1508.5 1110.1 L1509.3 1103.9 L1510.1 1097.6 L1510.8 1091.5 L1511.7 1085.6 L1513.1 1079.6 L1514.0 1078.1 L1514.4 1078.1 L1515.4 1080.1 L1516.8 1086.5 L1517.6 1092.5 L1518.4 1098.5 L1519.2 1104.7 L1520.1 1111.5 L1521.1 1117.8 L1522.7 1123.4 L1523.2 1123.9 L1523.8 1123.5 L1525.5 1117.6 L1526.5 1111.5 L1527.4 1105.3 L1528.2 1098.9 L1529.3 1092.5 L1530.5 1086.5 L1531.7 1083.7 L1532.3 1083.5 L1533.2 1084.8 L1534.7 1091.1 L1535.7 1097.2 L1536.6 1103.3 L1537.5 1109.5 L1538.5 1115.7 L1539.9 1121.7 L1540.9 1123.8 L1541.4 1123.8 L1542.4 1122.1 L1543.9 1116.1 L1545.0 1109.6 L1546.0 1103.3 L1547.0 1097.3 L1548.3 1091.2 L1549.7 1088.3 L1550.2 1088.1 L1551.1 1089.2 L1552.8 1095.3 L1553.9 1101.4 L1554.9 1107.5 L1555.9 1113.5 L1557.2 1119.6 L1558.7 1123.6 L1559.3 1123.9 L1560.1 1123.1 L1561.8 1117.2 L1563.1 1110.8 L1564.2 1104.6 L1565.4 1098.4 L1567.3 1092.5 L1568.1 1091.9 L1568.9 1092.4 L1570.9 1098.5 L1572.1 1104.7 L1573.2 1110.8 L1574.5 1117.0 L1576.2 1122.9 L1577.1 1123.9 L1577.8 1123.6 L1579.9 1117.8 L1581.3 1111.5 L1582.5 1105.4 L1583.9 1099.3 L1585.6 1095.5 L1586.3 1095.2 L1587.3 1096.2 L1589.2 1102.1 L1590.5 1108.3 L1591.8 1114.3 L1593.2 1120.2 L1594.9 1123.7 L1595.6 1123.9 L1596.9 1121.9 L1598.7 1115.7 L1600.0 1109.7 L1601.5 1103.6 L1603.6 1098.4 L1604.4 1098.0 L1605.5 1099.0 L1607.5 1105.0 L1608.9 1111.2 L1610.4 1117.4 L1612.4 1123.1 L1613.4 1123.9 L1614.4 1123.2 L1616.5 1117.4 L1618.1 1111.2 L1619.7 1105.3 L1621.8 1100.7 L1622.7 1100.4 L1624.2 1102.6 L1626.1 1108.7 L1627.7 1114.9 L1629.4 1120.7 L1631.0 1123.7 L1631.9 1123.8 L1634.6 1118.2 L1636.3 1112.1 L1638.1 1106.2 L1640.0 1102.7 L1640.9 1102.5 L1642.8 1105.4 L1644.7 1111.4 L1646.3 1117.4 L1648.6 1123.1 L1649.7 1123.9 L1650.8 1123.2 L1653.1 1117.6 L1654.9 1111.6 L1657.1 1105.9 L1658.5 1104.3 L1659.6 1104.8 L1662.2 1110.4 L1664.0 1116.3 L1666.1 1122.1 L1667.7 1123.9 L1668.8 1123.5 L1671.3 1118.0 L1673.2 1112.2 L1675.7 1106.7 L1676.9 1105.9 L1678.4 1107.0 L1680.8 1112.8 L1682.7 1118.5"/>
</g>
<g id="tick-labels" font-family="'Liberation Serif', serif" font-size="54.5" fill="#000">
<text transform="translate(321.9 1288.0) scale(0.970 1)" text-anchor="middle">1549</text>
<text transform="translate(545.1 1288.0) scale(0.970 1)" text-anchor="middle">1550</text>
<text transform="translate(768.4 1288.0) scale(0.970 1)" text-anchor="middle">1551</text>
<text transform="translate(991.6 1288.0) scale(0.970 1)" text-anchor="middle">1552</text>
<text transform="translate(1214.8 1288.0) scale(0.970 1)" text-anchor="middle">1553</text>
<text transform="translate(1438.1 1288.0) scale(0.970 1)" text-anchor="middle">1554</text>
<text transform="translate(1661.3 1288.0) scale(0.970 1)" text-anchor="middle">1555</text>
<text transform="translate(185.4 1140.2) scale(1.035 1)" text-anchor="end">0.0</text>
<text transform="translate(185.4 945.4) scale(1.035 1)" text-anchor="end">0.2</text>
<text transform="translate(185.4 750.6) scale(1.035 1)" text-anchor="end">0.4</text>
<text transform="translate(185.4 555.7) scale(1.035 1)" text-anchor="end">0.6</text>
<text transform="translate(185.4 360.9) scale(1.035 1)" text-anchor="end">0.8</text>
<text transform="translate(185.4 166.1) scale(1.035 1)" text-anchor="end">1.0</text>
</g>
<g id="axis-titles" font-family="'Liberation Serif', serif" fill="#000">
<text transform="translate(763.20 1375.00) scale(1.0704 1)" font-size="67.0">Wavelength(nm)</text>
<text transform="translate(77.7 730.18) rotate(-90) scale(1.0046 1)" font-size="68">Reflectivity</text>
</g>
<g font-family="'Liberation Serif', serif" fill="#000">
<text transform="translate(433.20 127.40) scale(1.050 1)" font-size="55.5" x="0.00 27.42 54.65 79.13 107.56 152.54">L=10mm</text>
<rect x="404.7" y="146.8" width="50.5" height="3.4"/>
<text><tspan font-style="italic" font-size="52" x="402.45 429.34" y="200.00">δn</tspan><tspan font-style="italic" font-size="29" x="457.93" y="202.50">eff</tspan><tspan font-weight="bold" font-size="47" x="507.19" y="201.80" textLength="33.21" lengthAdjust="spacingAndGlyphs">=</tspan><tspan font-size="52.5" x="546.75 575.90 610.11 635.02" y="200.00 204.30 200.00 200.00">1×10</tspan><tspan font-size="30" x="662.47" y="176.20">-4</tspan></text>
</g>
<g font-family="'Liberation Serif', serif" fill="#000">
<text transform="translate(468.80 437.40) scale(1.050 1)" font-size="55.5" x="0.00 28.37 53.88 82.80 127.87">L=5mm</text>
<rect x="422.0" y="448.2" width="50.5" height="3.4"/>
<text><tspan font-style="italic" font-size="52" x="419.75 446.64" y="501.40">δn</tspan><tspan font-style="italic" font-size="29" x="475.23" y="503.90">eff</tspan><tspan font-weight="bold" font-size="47" x="524.49" y="503.20" textLength="33.21" lengthAdjust="spacingAndGlyphs">=</tspan><tspan font-size="52.5" x="564.05 593.20 627.41 652.32" y="501.40 505.70 501.40 501.40">1×10</tspan><tspan font-size="30" x="679.77" y="477.60">-4</tspan></text>
</g>
<g font-family="'Liberation Serif', serif" fill="#000">
<text transform="translate(899.40 386.80) scale(1.050 1)" font-size="55.5" x="0.00 28.47 54.45 82.89 127.87">L=5mm</text>
<rect x="861.6" y="404.1" width="50.5" height="3.4"/>
<text><tspan font-style="italic" font-size="52" x="859.36 886.25" y="457.30">δn</tspan><tspan font-style="italic" font-size="29" x="914.83" y="459.80">eff</tspan><tspan font-weight="bold" font-size="47" x="964.09" y="459.10" textLength="33.21" lengthAdjust="spacingAndGlyphs">=</tspan><tspan font-size="52.5" x="1006.62 1037.60 1071.81 1096.72" y="457.30 461.60 457.30 457.30">5×10</tspan><tspan font-size="30" x="1124.17" y="433.50">-4</tspan></text>
</g>
<g font-family="'Liberation Serif', serif" fill="#000">
<text transform="translate(1357.40 158.80) scale(1.050 1)" font-size="55.5" x="0.00 27.42 55.70 79.94 108.70 153.40">L=10mm</text>
<rect x="1323.4" y="174.6" width="50.5" height="3.4"/>
<text><tspan font-style="italic" font-size="52" x="1321.16 1348.05" y="227.80">δn</tspan><tspan font-style="italic" font-size="29" x="1376.63" y="230.30">eff</tspan><tspan font-weight="bold" font-size="47" x="1425.89" y="229.60" textLength="33.21" lengthAdjust="spacingAndGlyphs">=</tspan><tspan font-size="52.5" x="1468.42 1499.40 1533.61 1558.52" y="227.80 232.10 227.80 227.80">5×10</tspan><tspan font-size="30" x="1585.98" y="204.00">-4</tspan></text>
</g>
</g>
</svg>
</body></html>
